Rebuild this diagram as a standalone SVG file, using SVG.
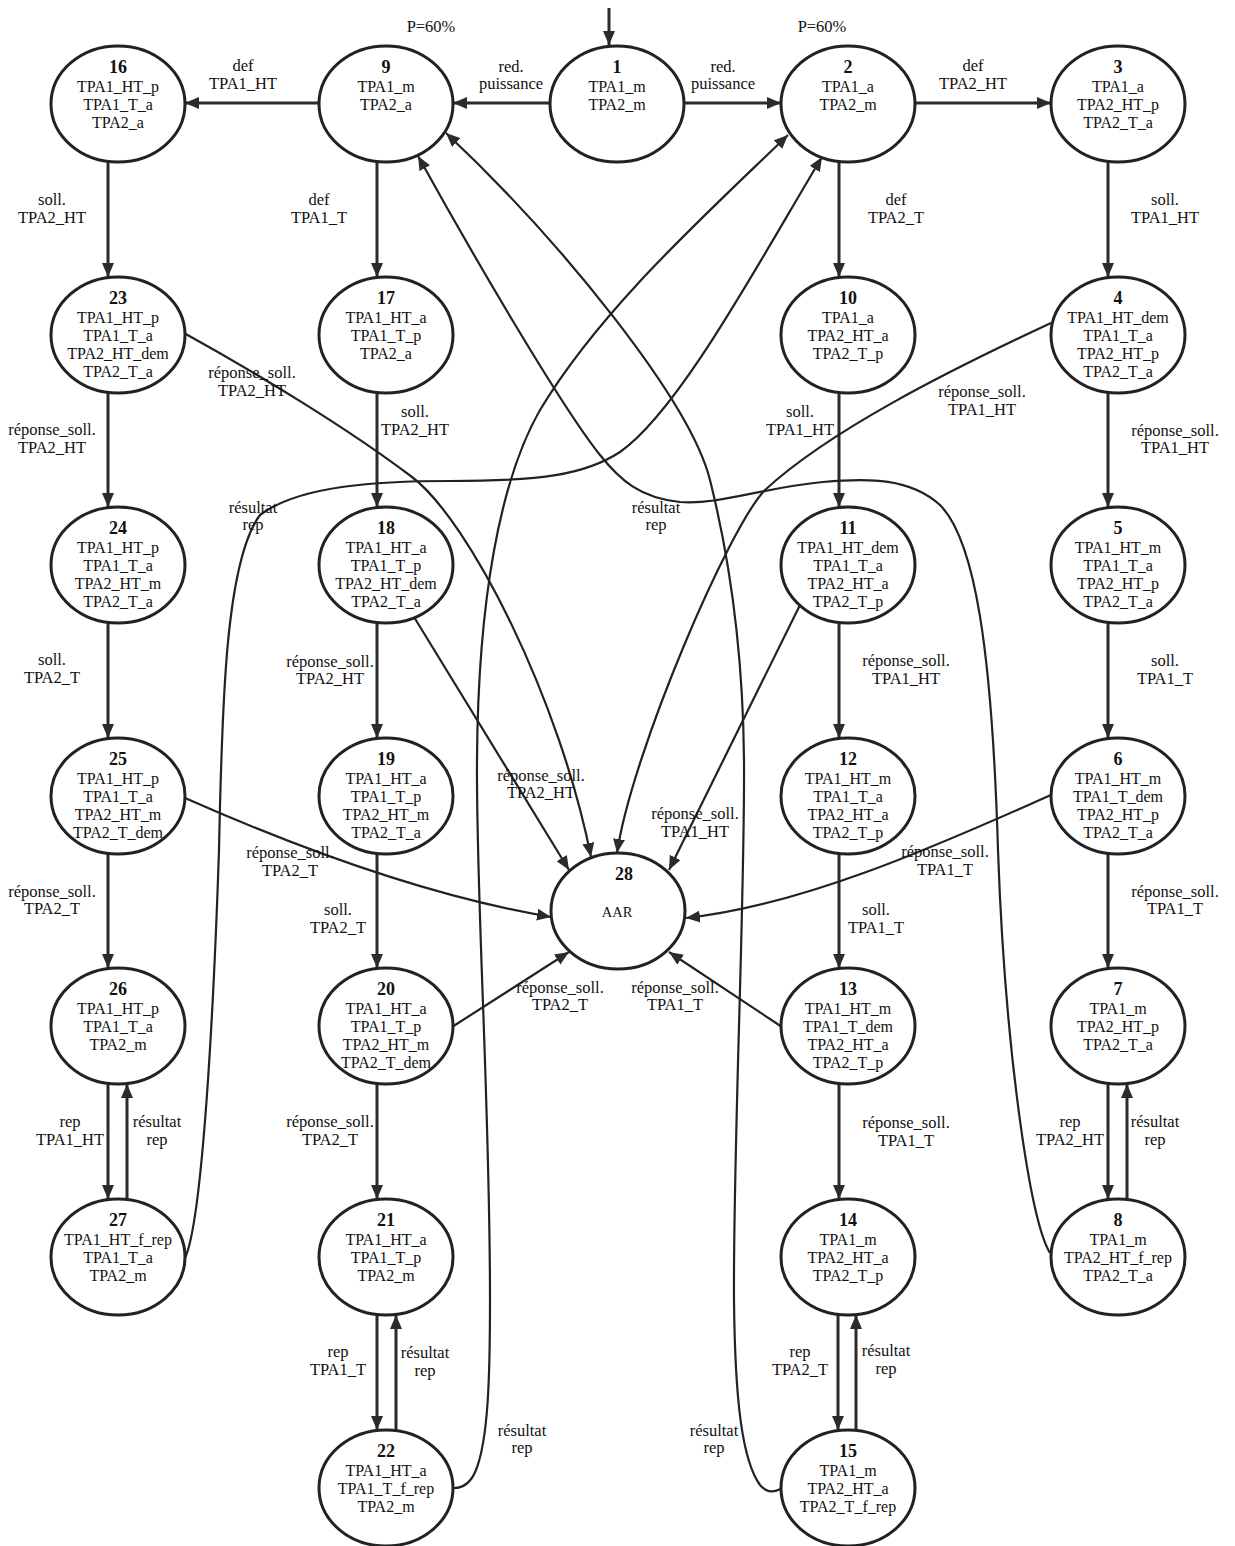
<svg xmlns="http://www.w3.org/2000/svg" width="1235" height="1546" viewBox="0 0 1235 1546">
<defs>
<marker id="ah" markerUnits="userSpaceOnUse" markerWidth="14" markerHeight="12" refX="14" refY="6" orient="auto"><path d="M0,0 L14,6 L0,12 z" fill="#2b2b2b"/></marker>
<style>
text{font-family:"Liberation Serif","Times New Roman",serif;text-anchor:middle;fill:#111;font-size:16px}
.num{font-weight:bold;font-size:18px}
.lb{font-size:16.5px}
.aar{font-size:14.5px}
.n ellipse{fill:#fff;stroke:#222;stroke-width:3}
.e{fill:none;stroke:#2b2b2b;stroke-width:3;marker-end:url(#ah)}
.c{fill:none;stroke:#222;stroke-width:2.2;marker-end:url(#ah)}
</style>
</defs>
<rect width="1235" height="1546" fill="#fff"/>
<g id="connectors">
<path class="e" d="M609,8 V45"/>
<path class="e" d="M550,103 H453"/>
<path class="e" d="M684,103 H781"/>
<path class="e" d="M319,103 H185"/>
<path class="e" d="M915,103 H1051"/>
<path class="e" d="M108,161 V277"/>
<path class="e" d="M108,392 V507"/>
<path class="e" d="M108,622 V738"/>
<path class="e" d="M108,853 V968"/>
<path class="e" d="M108,1083 V1199"/>
<path class="e" d="M127,1199 V1084"/>
<path class="e" d="M377,161 V277"/>
<path class="e" d="M377,392 V507"/>
<path class="e" d="M377,622 V738"/>
<path class="e" d="M377,853 V968"/>
<path class="e" d="M377,1083 V1199"/>
<path class="e" d="M377,1314 V1430"/>
<path class="e" d="M396,1430 V1315"/>
<path class="e" d="M839,161 V277"/>
<path class="e" d="M839,392 V507"/>
<path class="e" d="M839,622 V738"/>
<path class="e" d="M839,853 V968"/>
<path class="e" d="M839,1083 V1199"/>
<path class="e" d="M838,1314 V1430"/>
<path class="e" d="M856,1430 V1315"/>
<path class="e" d="M1108,161 V277"/>
<path class="e" d="M1108,392 V507"/>
<path class="e" d="M1108,622 V738"/>
<path class="e" d="M1108,853 V968"/>
<path class="e" d="M1108,1083 V1199"/>
<path class="e" d="M1127,1199 V1084"/>
<path class="c" d="M414,617 L569,870"/>
<path class="c" d="M800,605 L669,870"/>
<path class="c" d="M452,1027 L569,952"/>
<path class="c" d="M782,1027 L669,952"/>
<path class="c" d="M184,333 C260,375 350,430 412,477 C470,521 560,700 591,857"/>
<path class="c" d="M1051,323 C950,370 830,430 765,490 C730,525 632,752 617,853"/>
<path class="c" d="M185,798 C280,840 420,895 551,917"/>
<path class="c" d="M1051,795 C960,835 810,905 686,918"/>
<path class="c" d="M185,1258 C203,1220 214,1000 219,850 C222,700 226,560 260,515 C300,485 380,481 450,481 C540,481 585,475 620,452 C680,410 760,260 822,157"/>
<path class="c" d="M1050,1253 C1030,1220 1005,1050 998,850 C992,650 975,540 940,505 C910,478 870,478 823,482 C760,488 720,505 680,502 C640,498 620,480 600,455 C560,405 470,250 418,156"/>
<path class="c" d="M782,1488 C775,1492 768,1494 760,1485 C742,1460 735,1400 734,1300 C733,1150 745,900 744,760 C743,650 730,560 710,480 C690,400 560,240 446,133"/>
<path class="c" d="M454,1488 C462,1488 470,1485 476,1470 C488,1440 490,1380 490,1300 C490,1100 476,900 477,760 C478,600 500,480 540,410 C600,310 700,220 788,135"/>
</g>
<g id="n1" class="n"><ellipse cx="617" cy="104" rx="67" ry="58"/><text class="num" x="617" y="73">1</text><text x="617" y="92">TPA1_m</text><text x="617" y="110">TPA2_m</text></g>
<g id="n2" class="n"><ellipse cx="848" cy="104" rx="67" ry="58"/><text class="num" x="848" y="73">2</text><text x="848" y="92">TPA1_a</text><text x="848" y="110">TPA2_m</text></g>
<g id="n3" class="n"><ellipse cx="1118" cy="104" rx="67" ry="58"/><text class="num" x="1118" y="73">3</text><text x="1118" y="92">TPA1_a</text><text x="1118" y="110">TPA2_HT_p</text><text x="1118" y="128">TPA2_T_a</text></g>
<g id="n9" class="n"><ellipse cx="386" cy="104" rx="67" ry="58"/><text class="num" x="386" y="73">9</text><text x="386" y="92">TPA1_m</text><text x="386" y="110">TPA2_a</text></g>
<g id="n16" class="n"><ellipse cx="118" cy="104" rx="67" ry="58"/><text class="num" x="118" y="73">16</text><text x="118" y="92">TPA1_HT_p</text><text x="118" y="110">TPA1_T_a</text><text x="118" y="128">TPA2_a</text></g>
<g id="n23" class="n"><ellipse cx="118" cy="335" rx="67" ry="58"/><text class="num" x="118" y="304">23</text><text x="118" y="323">TPA1_HT_p</text><text x="118" y="341">TPA1_T_a</text><text x="118" y="359">TPA2_HT_dem</text><text x="118" y="377">TPA2_T_a</text></g>
<g id="n17" class="n"><ellipse cx="386" cy="335" rx="67" ry="58"/><text class="num" x="386" y="304">17</text><text x="386" y="323">TPA1_HT_a</text><text x="386" y="341">TPA1_T_p</text><text x="386" y="359">TPA2_a</text></g>
<g id="n10" class="n"><ellipse cx="848" cy="335" rx="67" ry="58"/><text class="num" x="848" y="304">10</text><text x="848" y="323">TPA1_a</text><text x="848" y="341">TPA2_HT_a</text><text x="848" y="359">TPA2_T_p</text></g>
<g id="n4" class="n"><ellipse cx="1118" cy="335" rx="67" ry="58"/><text class="num" x="1118" y="304">4</text><text x="1118" y="323">TPA1_HT_dem</text><text x="1118" y="341">TPA1_T_a</text><text x="1118" y="359">TPA2_HT_p</text><text x="1118" y="377">TPA2_T_a</text></g>
<g id="n24" class="n"><ellipse cx="118" cy="565" rx="67" ry="58"/><text class="num" x="118" y="534">24</text><text x="118" y="553">TPA1_HT_p</text><text x="118" y="571">TPA1_T_a</text><text x="118" y="589">TPA2_HT_m</text><text x="118" y="607">TPA2_T_a</text></g>
<g id="n18" class="n"><ellipse cx="386" cy="565" rx="67" ry="58"/><text class="num" x="386" y="534">18</text><text x="386" y="553">TPA1_HT_a</text><text x="386" y="571">TPA1_T_p</text><text x="386" y="589">TPA2_HT_dem</text><text x="386" y="607">TPA2_T_a</text></g>
<g id="n11" class="n"><ellipse cx="848" cy="565" rx="67" ry="58"/><text class="num" x="848" y="534">11</text><text x="848" y="553">TPA1_HT_dem</text><text x="848" y="571">TPA1_T_a</text><text x="848" y="589">TPA2_HT_a</text><text x="848" y="607">TPA2_T_p</text></g>
<g id="n5" class="n"><ellipse cx="1118" cy="565" rx="67" ry="58"/><text class="num" x="1118" y="534">5</text><text x="1118" y="553">TPA1_HT_m</text><text x="1118" y="571">TPA1_T_a</text><text x="1118" y="589">TPA2_HT_p</text><text x="1118" y="607">TPA2_T_a</text></g>
<g id="n25" class="n"><ellipse cx="118" cy="796" rx="67" ry="58"/><text class="num" x="118" y="765">25</text><text x="118" y="784">TPA1_HT_p</text><text x="118" y="802">TPA1_T_a</text><text x="118" y="820">TPA2_HT_m</text><text x="118" y="838">TPA2_T_dem</text></g>
<g id="n19" class="n"><ellipse cx="386" cy="796" rx="67" ry="58"/><text class="num" x="386" y="765">19</text><text x="386" y="784">TPA1_HT_a</text><text x="386" y="802">TPA1_T_p</text><text x="386" y="820">TPA2_HT_m</text><text x="386" y="838">TPA2_T_a</text></g>
<g id="n12" class="n"><ellipse cx="848" cy="796" rx="67" ry="58"/><text class="num" x="848" y="765">12</text><text x="848" y="784">TPA1_HT_m</text><text x="848" y="802">TPA1_T_a</text><text x="848" y="820">TPA2_HT_a</text><text x="848" y="838">TPA2_T_p</text></g>
<g id="n6" class="n"><ellipse cx="1118" cy="796" rx="67" ry="58"/><text class="num" x="1118" y="765">6</text><text x="1118" y="784">TPA1_HT_m</text><text x="1118" y="802">TPA1_T_dem</text><text x="1118" y="820">TPA2_HT_p</text><text x="1118" y="838">TPA2_T_a</text></g>
<g id="n28" class="n"><ellipse cx="618" cy="911" rx="67" ry="58"/><text class="num" x="624" y="880">28</text><text class="aar" x="617" y="917">AAR</text></g>
<g id="n26" class="n"><ellipse cx="118" cy="1026" rx="67" ry="58"/><text class="num" x="118" y="995">26</text><text x="118" y="1014">TPA1_HT_p</text><text x="118" y="1032">TPA1_T_a</text><text x="118" y="1050">TPA2_m</text></g>
<g id="n20" class="n"><ellipse cx="386" cy="1026" rx="67" ry="58"/><text class="num" x="386" y="995">20</text><text x="386" y="1014">TPA1_HT_a</text><text x="386" y="1032">TPA1_T_p</text><text x="386" y="1050">TPA2_HT_m</text><text x="386" y="1068">TPA2_T_dem</text></g>
<g id="n13" class="n"><ellipse cx="848" cy="1026" rx="67" ry="58"/><text class="num" x="848" y="995">13</text><text x="848" y="1014">TPA1_HT_m</text><text x="848" y="1032">TPA1_T_dem</text><text x="848" y="1050">TPA2_HT_a</text><text x="848" y="1068">TPA2_T_p</text></g>
<g id="n7" class="n"><ellipse cx="1118" cy="1026" rx="67" ry="58"/><text class="num" x="1118" y="995">7</text><text x="1118" y="1014">TPA1_m</text><text x="1118" y="1032">TPA2_HT_p</text><text x="1118" y="1050">TPA2_T_a</text></g>
<g id="n27" class="n"><ellipse cx="118" cy="1257" rx="67" ry="58"/><text class="num" x="118" y="1226">27</text><text x="118" y="1245">TPA1_HT_f_rep</text><text x="118" y="1263">TPA1_T_a</text><text x="118" y="1281">TPA2_m</text></g>
<g id="n21" class="n"><ellipse cx="386" cy="1257" rx="67" ry="58"/><text class="num" x="386" y="1226">21</text><text x="386" y="1245">TPA1_HT_a</text><text x="386" y="1263">TPA1_T_p</text><text x="386" y="1281">TPA2_m</text></g>
<g id="n14" class="n"><ellipse cx="848" cy="1257" rx="67" ry="58"/><text class="num" x="848" y="1226">14</text><text x="848" y="1245">TPA1_m</text><text x="848" y="1263">TPA2_HT_a</text><text x="848" y="1281">TPA2_T_p</text></g>
<g id="n8" class="n"><ellipse cx="1118" cy="1257" rx="67" ry="58"/><text class="num" x="1118" y="1226">8</text><text x="1118" y="1245">TPA1_m</text><text x="1118" y="1263">TPA2_HT_f_rep</text><text x="1118" y="1281">TPA2_T_a</text></g>
<g id="n22" class="n"><ellipse cx="386" cy="1488" rx="67" ry="58"/><text class="num" x="386" y="1457">22</text><text x="386" y="1476">TPA1_HT_a</text><text x="386" y="1494">TPA1_T_f_rep</text><text x="386" y="1512">TPA2_m</text></g>
<g id="n15" class="n"><ellipse cx="848" cy="1488" rx="67" ry="58"/><text class="num" x="848" y="1457">15</text><text x="848" y="1476">TPA1_m</text><text x="848" y="1494">TPA2_HT_a</text><text x="848" y="1512">TPA2_T_f_rep</text></g>
<g id="labels" class="lb">
<text class="lb" x="431" y="32">P=60%</text>
<text class="lb" x="822" y="32">P=60%</text>
<text class="lb" x="511" y="72">red.<tspan x="511" y="89">puissance</tspan></text>
<text class="lb" x="723" y="72">red.<tspan x="723" y="89">puissance</tspan></text>
<text class="lb" x="243" y="71">def<tspan x="243" y="89">TPA1_HT</tspan></text>
<text class="lb" x="973" y="71">def<tspan x="973" y="89">TPA2_HT</tspan></text>
<text class="lb" x="52" y="205">soll.<tspan x="52" y="223">TPA2_HT</tspan></text>
<text class="lb" x="319" y="205">def<tspan x="319" y="223">TPA1_T</tspan></text>
<text class="lb" x="896" y="205">def<tspan x="896" y="223">TPA2_T</tspan></text>
<text class="lb" x="1165" y="205">soll.<tspan x="1165" y="223">TPA1_HT</tspan></text>
<text class="lb" x="252" y="378">réponse_soll.<tspan x="252" y="396">TPA2_HT</tspan></text>
<text class="lb" x="982" y="397">réponse_soll.<tspan x="982" y="415">TPA1_HT</tspan></text>
<text class="lb" x="52" y="435">réponse_soll.<tspan x="52" y="453">TPA2_HT</tspan></text>
<text class="lb" x="415" y="417">soll.<tspan x="415" y="435">TPA2_HT</tspan></text>
<text class="lb" x="800" y="417">soll.<tspan x="800" y="435">TPA1_HT</tspan></text>
<text class="lb" x="1175" y="436">réponse_soll.<tspan x="1175" y="453">TPA1_HT</tspan></text>
<text class="lb" x="253" y="513">résultat<tspan x="253" y="530">rep</tspan></text>
<text class="lb" x="656" y="513">résultat<tspan x="656" y="530">rep</tspan></text>
<text class="lb" x="52" y="665">soll.<tspan x="52" y="683">TPA2_T</tspan></text>
<text class="lb" x="330" y="667">réponse_soll.<tspan x="330" y="684">TPA2_HT</tspan></text>
<text class="lb" x="906" y="666">réponse_soll.<tspan x="906" y="684">TPA1_HT</tspan></text>
<text class="lb" x="1165" y="666">soll.<tspan x="1165" y="684">TPA1_T</tspan></text>
<text class="lb" x="541" y="781">réponse_soll.<tspan x="541" y="798">TPA2_HT</tspan></text>
<text class="lb" x="695" y="819">réponse_soll.<tspan x="695" y="837">TPA1_HT</tspan></text>
<text class="lb" x="290" y="858">réponse_soll.<tspan x="290" y="876">TPA2_T</tspan></text>
<text class="lb" x="945" y="857">réponse_soll.<tspan x="945" y="875">TPA1_T</tspan></text>
<text class="lb" x="52" y="897">réponse_soll.<tspan x="52" y="914">TPA2_T</tspan></text>
<text class="lb" x="338" y="915">soll.<tspan x="338" y="933">TPA2_T</tspan></text>
<text class="lb" x="876" y="915">soll.<tspan x="876" y="933">TPA1_T</tspan></text>
<text class="lb" x="1175" y="897">réponse_soll.<tspan x="1175" y="914">TPA1_T</tspan></text>
<text class="lb" x="560" y="993">réponse_soll.<tspan x="560" y="1010">TPA2_T</tspan></text>
<text class="lb" x="675" y="993">réponse_soll.<tspan x="675" y="1010">TPA1_T</tspan></text>
<text class="lb" x="70" y="1127">rep<tspan x="70" y="1145">TPA1_HT</tspan></text>
<text class="lb" x="157" y="1127">résultat<tspan x="157" y="1145">rep</tspan></text>
<text class="lb" x="330" y="1127">réponse_soll.<tspan x="330" y="1145">TPA2_T</tspan></text>
<text class="lb" x="906" y="1128">réponse_soll.<tspan x="906" y="1146">TPA1_T</tspan></text>
<text class="lb" x="1070" y="1127">rep<tspan x="1070" y="1145">TPA2_HT</tspan></text>
<text class="lb" x="1155" y="1127">résultat<tspan x="1155" y="1145">rep</tspan></text>
<text class="lb" x="338" y="1357">rep<tspan x="338" y="1375">TPA1_T</tspan></text>
<text class="lb" x="425" y="1358">résultat<tspan x="425" y="1376">rep</tspan></text>
<text class="lb" x="800" y="1357">rep<tspan x="800" y="1375">TPA2_T</tspan></text>
<text class="lb" x="886" y="1356">résultat<tspan x="886" y="1374">rep</tspan></text>
<text class="lb" x="522" y="1436">résultat<tspan x="522" y="1453">rep</tspan></text>
<text class="lb" x="714" y="1436">résultat<tspan x="714" y="1453">rep</tspan></text>
</g>
</svg>
